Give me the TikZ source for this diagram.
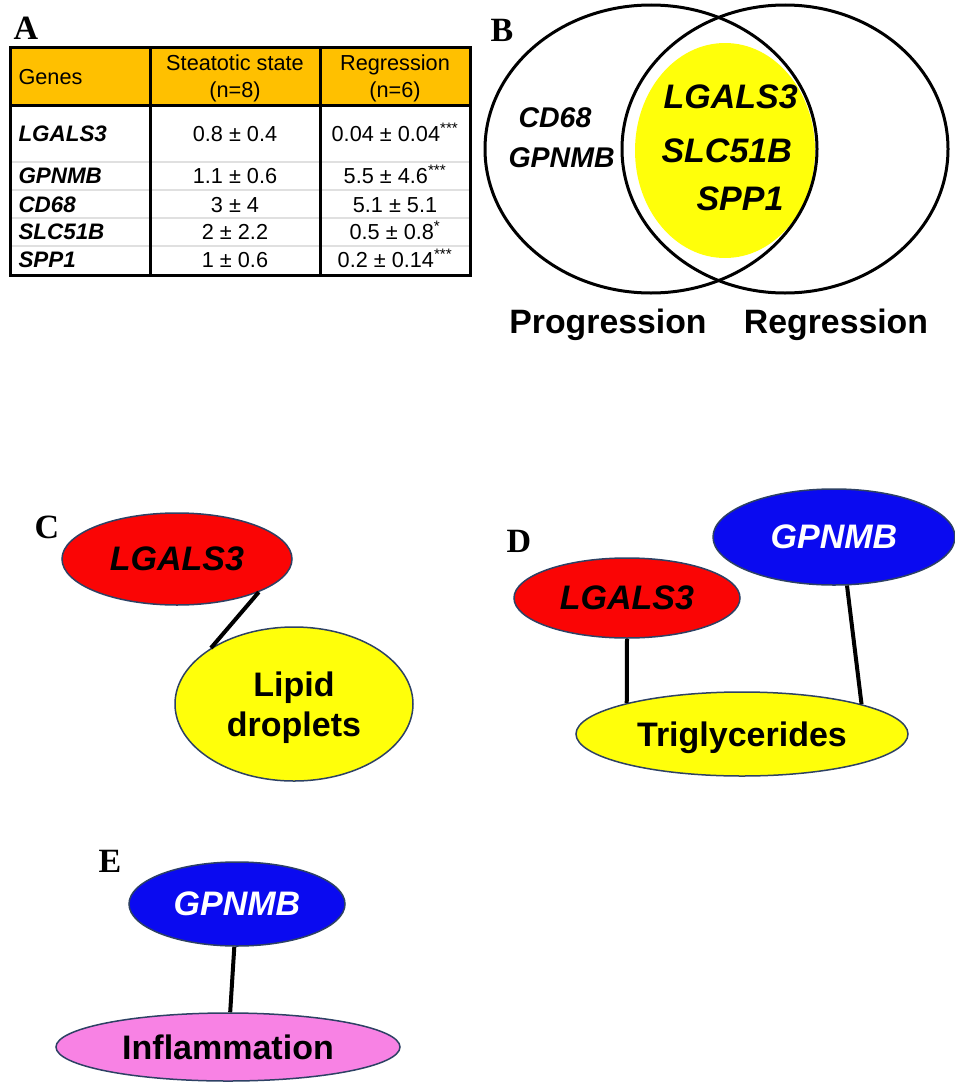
\documentclass[tikz,border=0pt]{standalone}
\usepackage{fontspec}
\setmainfont{Liberation Sans}
\newfontfamily\panelfont{Liberation Serif}
\usetikzlibrary{shapes.geometric}

\definecolor{hdrorange}{RGB}{255,192,0}
\definecolor{gRed}{RGB}{250,5,5}
\definecolor{gBlue}{RGB}{10,10,240}
\definecolor{gYellow}{RGB}{255,255,10}
\definecolor{gPink}{RGB}{248,130,228}
\definecolor{rimblue}{RGB}{45,65,100}

\begin{document}
\begin{tikzpicture}[
  x=1pt, y=-1pt,
  panel/.style={anchor=base, font=\panelfont\bfseries\fontsize{34}{34}\selectfont},
  tabtxt/.style={anchor=base, font=\fontsize{21.7}{26}\selectfont},
  gene/.style={anchor=base west, font=\fontsize{22.4}{26}\selectfont\bfseries\itshape},
  venngene/.style={anchor=base west, font=\fontsize{34}{40}\selectfont\bfseries\itshape},
  bubble/.style={ellipse, draw=rimblue, line width=1.5pt, inner sep=0pt, text depth=0pt,
    font=\fontsize{34}{40}\selectfont\bfseries},
  link/.style={-, line width=4pt},
  venn/.style={line width=3pt}
  ]

\useasboundingbox (0,0) rectangle (955,1084);

% A
\node[panel] (pA) at (26,39) {A};
\fill[hdrorange] (10,47) rectangle (470,105);
\foreach \y in {162,190,218,246}
  \draw[black!12, line width=1.5pt] (10,\y) -- (470,\y);
\draw[line width=3pt] (10,47) rectangle (470,275);
\draw[line width=3pt] (10,105) -- (470,105);
\draw[line width=3pt] (150,47) -- (150,275);
\draw[line width=3pt] (320,47) -- (320,275);

\node[tabtxt, anchor=base west] (hGenes) at (15,84) {Genes};
\node[tabtxt] (hSteat) at (235,70) {Steatotic state};
\node[tabtxt] (hSteatN) at (235,97) {(n=8)};
\node[tabtxt] (hRegr) at (395,70) {Regression};
\node[tabtxt] (hRegrN) at (395,97) {(n=6)};

\foreach \g/\a/\b/\y in {LGALS3/0.8 ± 0.4/0.04 ± 0.04\textsuperscript{***}/141,
    GPNMB/1.1 ± 0.6/5.5 ± 4.6\textsuperscript{***}/183,
    CD68/3 ± 4/5.1 ± 5.1/212,
    SLC51B/2 ± 2.2/0.5 ± 0.8\textsuperscript{*}/239,
    SPP1/1 ± 0.6/0.2 ± 0.14\textsuperscript{***}/267}{
  \node[gene] (g\g) at (15,\y) {\g};
  \node[tabtxt] (s\g) at (235,\y) {\a};
  \node[tabtxt] (r\g) at (395,\y) {\b};
}

% B
\node[panel] (pB) at (502,41) {B};
\fill[gYellow] (725,150.5) ellipse [x radius=90, y radius=107.5];
\draw[venn] (651,149) ellipse [x radius=166, y radius=144];
\draw[venn] (785,149) ellipse [x radius=163, y radius=144];
\node[venngene] (vL) at (660,108) {LGALS3};
\node[venngene] (vS) at (658,162) {SLC51B};
\node[venngene] (vP) at (693,210) {SPP1};
\node[venngene, font=\fontsize{28.5}{34}\selectfont\bfseries\itshape] (vC) at (515,127) {CD68};
\node[venngene, font=\fontsize{28.5}{34}\selectfont\bfseries\itshape] (vG) at (505,167) {GPNMB};
\node[anchor=base, font=\fontsize{33.8}{40}\selectfont\bfseries] (prog) at (608,333) {Progression};
\node[anchor=base, font=\fontsize{33.8}{40}\selectfont\bfseries] (regr) at (836,333) {Regression};

% C
\node[panel] (pC) at (47,538) {C};
\node[bubble, fill=gRed, minimum width=230pt, minimum height=92pt] (lgC) at (177,559) {\itshape LGALS3};
\node[bubble, fill=gYellow, minimum width=238pt, minimum height=154pt, align=center] (lipid) at (294,704) {Lipid\\droplets};
\draw[link] (lgC.-22) -- (lipid.146);

% D
\node[panel] (pD) at (519,552) {D};
\node[bubble, fill=gBlue, text=white, minimum width=242pt, minimum height=96pt] (gpD) at (834,537) {\itshape GPNMB};
\node[bubble, fill=gRed, minimum width=226pt, minimum height=80pt] (lgD) at (627,598) {\itshape LGALS3};
\node[bubble, fill=gYellow, minimum width=332pt, minimum height=84pt] (trig) at (742,734) {Triglycerides};
\draw[link] (lgD.south) -- (trig.165.5);
\draw[link] (gpD.-75) -- (trig.14);

% E
\node[panel] (pE) at (110,872) {E};
\node[bubble, fill=gBlue, text=white, minimum width=216pt, minimum height=84pt] (gpE) at (237,904) {\itshape GPNMB};
\node[bubble, fill=gPink, minimum width=344pt, minimum height=68pt] (infl) at (228,1047) {Inflammation};
\draw[link] (gpE) -- (infl);

\end{tikzpicture}
\end{document}
